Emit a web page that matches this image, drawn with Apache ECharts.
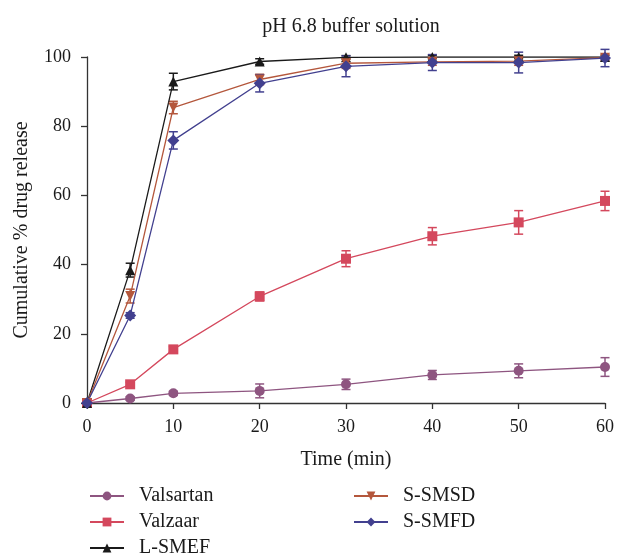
<!DOCTYPE html>
<html>
<head>
    <meta charset="utf-8">
    <title>pH 6.8 buffer solution</title>
    <script src="https://cdn.jsdelivr.net/npm/echarts@6/dist/echarts.min.js"></script>
    <style>
        html, body { margin: 0; padding: 0; background: #fff; }
    </style>
</head>
<body>
<div id="chart" style="width: 617px; height: 560px;"></div>
<script>
    // time points (min)
    var times = [0, 5, 10, 20, 30, 40, 50, 60];

    var valsartan = [0, 1.3, 2.8, 3.5, 5.4, 8.1, 9.3, 10.4];
    var valzaar = [0, 5.4, 15.5, 30.8, 41.7, 48.2, 52.2, 58.4];
    var lsmef = [0, 38.4, 92.9, 98.7, 99.9, 100, 100, 100];
    var ssmsd = [0, 30.9, 85.4, 93.5, 98.2, 98.6, 98.8, 99.8];
    var ssmfd = [0, 25.3, 75.9, 92.4, 97.3, 98.4, 98.4, 99.7];

    // +/- error
    var valsartanErr = [0, 0.5, 0.6, 2.0, 1.5, 1.3, 2.0, 2.7];
    var valzaarErr = [0, 0.6, 0.8, 1.3, 2.3, 2.5, 3.4, 2.8];
    var lsmefErr = [0, 2.0, 2.4, 0.8, 0.5, 0.5, 0.5, 0.5];
    var ssmsdErr = [0, 2.0, 1.8, 1.5, 1.5, 1.0, 1.2, 0.8];
    var ssmfdErr = [0, 0.8, 2.5, 2.5, 3.0, 2.3, 3.0, 2.5];

    var yTicks = [0, 20, 40, 60, 80, 100];

    var font = "'Liberation Serif', 'DejaVu Serif', serif";

    function pairs(vals) {
        return times.map(function (t, i) { return [t, vals[i]]; });
    }

    function errData(vals, errs) {
        return times.map(function (t, i) { return [t, vals[i] - errs[i], vals[i] + errs[i]]; });
    }

    function errSeries(name, vals, errs, color) {
        return {
            type: 'custom',
            name: name + ' err',
            data: errData(vals, errs),
            z: 1,
            silent: true,
            renderItem: function (params, api) {
                var lo = api.coord([api.value(0), api.value(1)]);
                var hi = api.coord([api.value(0), api.value(2)]);
                if (Math.abs(hi[1] - lo[1]) < 1) return null;
                var w = 4.5;
                var st = { stroke: color, lineWidth: 1.5 };
                return {
                    type: 'group',
                    children: [
                        { type: 'line', shape: { x1: lo[0], y1: lo[1], x2: hi[0], y2: hi[1] }, style: st },
                        { type: 'line', shape: { x1: lo[0] - w, y1: lo[1], x2: lo[0] + w, y2: lo[1] }, style: st },
                        { type: 'line', shape: { x1: hi[0] - w, y1: hi[1], x2: hi[0] + w, y2: hi[1] }, style: st }
                    ]
                };
            }
        };
    }

    function lineSeries(name, vals, color, symbol, size) {
        return {
            type: 'line',
            name: name,
            data: pairs(vals),
            symbol: symbol,
            symbolSize: size,
            showAllSymbol: true,
            z: 3,
            itemStyle: { color: color },
            lineStyle: { color: color, width: 1.3 },
            emphasis: { disabled: true }
        };
    }

    function legendItem(name, left, centerY) {
        return {
            data: [name],
            left: left,
            top: centerY - 10,
            padding: 0,
            itemWidth: 34,
            itemHeight: 11,
            textStyle: { fontFamily: font, fontSize: 20, color: '#1a1a1a', padding: [0, 0, 0, 10] }
        };
    }

    var colors = {
        valsartan: '#8e5580',
        valzaar: '#d4485d',
        lsmef: '#1a1a1a',
        ssmsd: '#b4573c',
        ssmfd: '#42408f'
    };

    var chart = echarts.init(document.getElementById('chart'));
    var option = {
        animation: false,
        title: {
            text: 'pH 6.8 buffer solution',
            left: 346,
            top: 12,
            textAlign: 'center',
            textStyle: { fontFamily: font, fontSize: 20, fontWeight: 'normal', color: '#1a1a1a' }
        },
        grid: { left: 87, right: 12, top: 57, bottom: 157, containLabel: false },
        legend: [
            legendItem('Valsartan', 89, 496),
            legendItem('Valzaar', 89, 522),
            legendItem('L-SMEF', 89, 548),
            legendItem('S-SMSD', 353, 496),
            legendItem('S-SMFD', 353, 522)
        ],
        xAxis: {
            type: 'value',
            min: 0,
            max: 60,
            interval: 10,
            name: 'Time (min)',
            nameLocation: 'middle',
            nameGap: 47,
            nameTextStyle: { fontFamily: font, fontSize: 20, color: '#1a1a1a' },
            axisLine: { lineStyle: { color: '#333', width: 1.3 } },
            axisTick: { length: 6, lineStyle: { color: '#333', width: 1.3 } },
            axisLabel: { fontFamily: font, fontSize: 18, color: '#1a1a1a', margin: 15 },
            splitLine: { show: false }
        },
        yAxis: {
            type: 'value',
            min: yTicks[0],
            max: yTicks[yTicks.length - 1],
            interval: 20,
            name: 'Cumulative % drug release',
            nameLocation: 'middle',
            nameGap: 55,
            nameTextStyle: { fontFamily: font, fontSize: 20, color: '#1a1a1a' },
            axisLine: { show: true, lineStyle: { color: '#333', width: 1.3 } },
            axisTick: { show: true, length: 6, lineStyle: { color: '#333', width: 1.3 } },
            axisLabel: { fontFamily: font, fontSize: 18, color: '#1a1a1a', margin: 16 },
            splitLine: { show: false }
        },
        series: [
            errSeries('Valsartan', valsartan, valsartanErr, colors.valsartan),
            errSeries('Valzaar', valzaar, valzaarErr, colors.valzaar),
            errSeries('L-SMEF', lsmef, lsmefErr, colors.lsmef),
            errSeries('S-SMSD', ssmsd, ssmsdErr, colors.ssmsd),
            errSeries('S-SMFD', ssmfd, ssmfdErr, colors.ssmfd),
            lineSeries('Valsartan', valsartan, colors.valsartan, 'circle', 10),
            lineSeries('Valzaar', valzaar, colors.valzaar, 'rect', 10),
            lineSeries('L-SMEF', lsmef, colors.lsmef, 'triangle', 10),
            lineSeries('S-SMSD', ssmsd, colors.ssmsd, 'path://M0,0L10,0L5,9Z', 10),
            lineSeries('S-SMFD', ssmfd, colors.ssmfd, 'diamond', 12)
        ]
    };
    chart.setOption(option);
</script>
</body>
</html>
